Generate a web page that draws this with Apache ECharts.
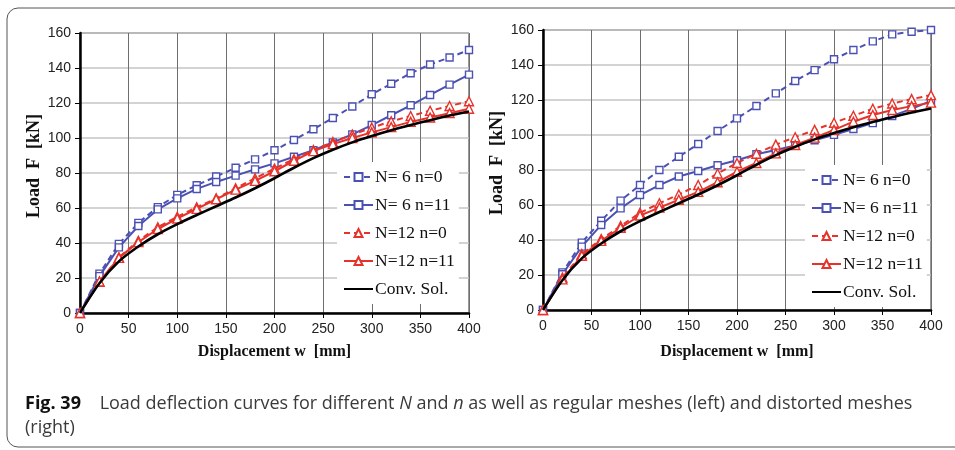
<!DOCTYPE html>
<html>
<head>
<meta charset="utf-8">
<script src="https://cdn.jsdelivr.net/npm/echarts@6/dist/echarts.min.js"></script>
<style>
  html, body { margin: 0; padding: 0; background: #fff; }
  #chart { width: 955px; height: 450px; }
</style>
</head>
<body>
<div id="chart"></div>
<script>
// Displacement steps (mm) shared by every curve
const displacement = [0, 20, 40, 60, 80, 100, 120, 140, 160, 180, 200, 220, 240, 260, 280, 300, 320, 340, 360, 380, 400];

// Axis ticks
const xTicks = [0, 50, 100, 150, 200, 250, 300, 350, 400];
const yTicks = [0, 20, 40, 60, 80, 100, 120, 140, 160];

// Series names
const seriesNames = ['N= 6 n=0', 'N= 6 n=11', 'N=12 n=0', 'N=12 n=11', 'Conv. Sol.'];

// Regular meshes (left panel), load in kN
const leftN6n0   = [0, 22.5, 39.5, 51.5, 60.5, 67.5, 73, 78, 83, 87.8, 93, 98.9, 105, 111.4, 118, 125, 131, 137, 142, 146, 150.3];
const leftN6n11  = [0, 21.1, 37.5, 49.7, 59.2, 65.5, 70.9, 74.9, 78.5, 82.1, 85.5, 89.3, 93, 97.5, 102.1, 107.4, 113, 118.7, 124.6, 130.5, 136.2];
const leftN12n0  = [0, 17.9, 31.8, 41.3, 49, 55, 60.4, 65.5, 71.2, 77, 82.5, 88, 93.1, 97.7, 101.9, 105.9, 109.5, 112.6, 115.6, 118.3, 121];
const leftN12n11 = [0, 18, 31.5, 40.5, 48, 54, 59.5, 65, 70.5, 75.5, 81, 87, 92.5, 96.5, 100, 103.2, 106.2, 109.2, 111.7, 114.2, 116.7];

// Distorted meshes (right panel), load in kN
const rightN6n0   = [0, 21.5, 38.5, 51, 62.5, 71.4, 80, 87.6, 94.9, 102.3, 109.5, 116.6, 123.8, 130.9, 137.1, 143.3, 148.6, 153.5, 157.5, 159, 160];
const rightN6n11  = [0, 20.4, 36.2, 48.6, 58.1, 65.7, 71.4, 76.3, 79.4, 82.7, 85.6, 89, 91.4, 94, 97, 100.1, 103.4, 106.8, 110.9, 114.9, 119.5];
const rightN12n0  = [0, 18.5, 32, 40.5, 48, 55.5, 61, 66, 71.4, 78, 84, 89.3, 94.5, 98.7, 102.9, 107, 111, 115, 118, 120.5, 122.8];
const rightN12n11 = [0, 17.5, 31, 39.5, 47, 54, 58.5, 63, 67.5, 73, 79, 84, 89.5, 94.3, 98.5, 102.9, 107.6, 111.4, 114.3, 116.5, 118.5];

// Conventional solution (same in both panels)
const convSol = [0, 17, 29.5, 38, 45, 50.8, 56, 61, 66, 71.3, 77, 83, 88.5, 93.3, 97.5, 101.1, 104.4, 107.4, 110.2, 112.8, 115.2];

const BLUE = '#4b51b3';
const RED = '#e6322a';
const BLACK = '#000';

const pairs = (ys) => displacement.map((x, i) => [x, ys[i]]);

function styleFor(idx) {
  const dashed = [6, 4];
  switch (idx) {
    case 0: return { color: BLUE, type: dashed, symbol: 'rect', size: 7 };
    case 1: return { color: BLUE, type: 'solid', symbol: 'rect', size: 7 };
    case 2: return { color: RED, type: dashed, symbol: 'triangle', size: 9 };
    case 3: return { color: RED, type: 'solid', symbol: 'triangle', size: 9 };
    default: return { color: BLACK, type: 'solid', symbol: 'none', size: 0, width: 2.6 };
  }
}

function makeSeries(dataSets, axisIndex) {
  return dataSets.map((ys, idx) => {
    const s = styleFor(idx);
    return {
      name: seriesNames[idx],
      type: 'line',
      xAxisIndex: axisIndex,
      yAxisIndex: axisIndex,
      data: pairs(ys),
      symbol: s.symbol,
      symbolSize: s.size,
      showSymbol: s.symbol !== 'none',
      smooth: idx === 4 ? 0.3 : false,
      lineStyle: { color: s.color, width: s.width || 2, type: s.type },
      itemStyle: { color: '#fff', borderColor: s.color, borderWidth: 1.4 },
      emphasis: { disabled: true },
      animation: false,
      z: 2 + idx
    };
  });
}

function xAxisFor(gridIndex, gap) {
  return {
    type: 'value', gridIndex,
    min: xTicks[0], max: xTicks[xTicks.length - 1], interval: xTicks[1] - xTicks[0],
    name: 'Displacement w  [mm]', nameLocation: 'middle', nameGap: gap,
    nameTextStyle: { fontFamily: 'Liberation Serif', fontWeight: 'bold', fontSize: 16, color: '#111' },
    axisLine: { onZero: false, lineStyle: { color: '#000', width: 2.5 } },
    axisTick: { show: true, length: 5, lineStyle: { color: '#000', width: 1 } },
    axisLabel: { fontFamily: 'Liberation Sans', fontSize: 14, color: '#222', margin: 9 },
    splitLine: { show: true, lineStyle: { color: '#6e6e6e', width: 1 } }
  };
}

function yAxisFor(gridIndex, gap) {
  return {
    type: 'value', gridIndex,
    min: yTicks[0], max: yTicks[yTicks.length - 1], interval: yTicks[1] - yTicks[0],
    name: 'Load  F  [kN]', nameLocation: 'middle', nameGap: gap,
    nameTextStyle: { fontFamily: 'Liberation Serif', fontWeight: 'bold', fontSize: 18, color: '#111', padding: [0, 0, 0, 14] },
    axisLine: { onZero: false, lineStyle: { color: '#000', width: 2.5 } },
    axisTick: { show: true, length: 5, lineStyle: { color: '#000', width: 1 } },
    axisLabel: { fontFamily: 'Liberation Sans', fontSize: 14, color: '#222', margin: 9 },
    splitLine: { show: true, lineStyle: { color: '#c4c4c4', width: 1.5 } }
  };
}

function legendFor(left, top) {
  return {
    data: seriesNames.map((name, i) => i === 4
      ? { name, itemStyle: { color: 'transparent', borderWidth: 0, opacity: 0 } }
      : { name }),
    orient: 'vertical',
    left, top,
    itemWidth: 29, itemHeight: 10, itemGap: 10,
    backgroundColor: '#fff',
    padding: [6, 4, 6, 6],
    selectedMode: false,
    textStyle: { fontFamily: 'Liberation Serif', fontSize: 17.5, color: '#111', padding: [0, 0, 0, -3] }
  };
}

const chart = echarts.init(document.getElementById('chart'), null, { renderer: 'canvas' });

chart.setOption({
  animation: false,
  backgroundColor: '#fff',
  grid: [
    { left: 80, top: 33, width: 389, height: 280, show: true, borderColor: '#333', borderWidth: 1, backgroundColor: 'transparent' },
    { left: 543, top: 30, width: 388, height: 280, show: true, borderColor: '#333', borderWidth: 1, backgroundColor: 'transparent' }
  ],
  xAxis: [xAxisFor(0, 31), xAxisFor(1, 34)],
  yAxis: [yAxisFor(0, 33), yAxisFor(1, 35)],
  legend: [legendFor(337, 162), legendFor(805, 165)],
  series: [
    ...makeSeries([leftN6n0, leftN6n11, leftN12n0, leftN12n11, convSol], 0),
    ...makeSeries([rightN6n0, rightN6n11, rightN12n0, rightN12n11, convSol], 1)
  ],
  graphic: [
    {
      type: 'rect', silent: true, z: -10,
      shape: { x: 7, y: 8, width: 970, height: 439, r: 11 },
      style: { fill: 'none', stroke: '#555', lineWidth: 1 }
    },
    {
      type: 'text', left: 25, top: 392, silent: true,
      style: {
        text: '{b|Fig. 39}    Load deflection curves for different {i|N} and {i|n} as well as regular meshes (left) and distorted meshes\n(right)',
        fontFamily: 'Open Sans', fontSize: 18, fill: '#3a3a3a', lineHeight: 24,
        rich: {
          b: { fontFamily: 'Open Sans', fontWeight: 'bold', fontSize: 18, fill: '#111', lineHeight: 24 },
          i: { fontFamily: 'Open Sans', fontStyle: 'italic', fontSize: 18, fill: '#3a3a3a', lineHeight: 24 }
        }
      }
    }
  ]
});
</script>
</body>
</html>
